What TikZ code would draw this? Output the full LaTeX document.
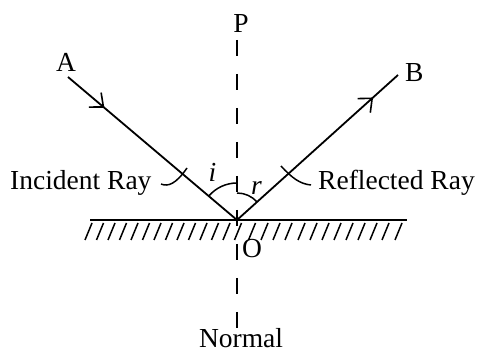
\documentclass[tikz,border=0pt]{standalone}
\usepackage{fontspec}
\setmainfont{Liberation Serif}
\usetikzlibrary{arrows.meta,decorations.markings}
\begin{document}
\begin{tikzpicture}[x=1pt,y=1pt,
  ray/.style={line width=1.8pt},
  thin line/.style={line width=1.5pt},
  normalline/.style={line width=1.6pt, dash pattern=on 16pt off 18pt},
  lbl/.style={inner sep=0pt, font=\fontsize{27.5}{30}\selectfont},
  barb/.style={postaction={decorate}, decoration={markings,
      mark=at position #1 with {\arrow{Straight Barb[length=11pt,width=19pt,line width=1.6pt]}}}}]
\useasboundingbox (0,0) rectangle (479,353);
% points
\coordinate (O) at (237,133);
\coordinate (A0) at (68,276);
\coordinate (B0) at (398,278);
\coordinate (N0) at (237,313);
\coordinate (N1) at (237,20);
\coordinate (M0) at (90,133);
\coordinate (M1) at (407,133);
% normal
\draw[normalline] (N0) -- (N1);
% mirror
\draw[ray] (M0) -- (M1);
\foreach \x in {85,96.5,108,119.5,131,142.5,154,165.5,177,188.5,200,211.5,223,234.5,248.5,261,273,285,298,310,322,334,346,358,370,382,395}
  \draw[thin line] (\x,113) -- (\x+7,130);
% rays
\draw[ray, barb=0.215] (A0) -- (O);
\draw[ray, barb=0.845] (O) -- (B0);
% angle arcs
\draw[thin line] (O) ++(139.76:37) arc[start angle=139.76, end angle=90, radius=37];
\draw[thin line] (O) ++(90:27) arc[start angle=90, end angle=42, radius=27];
% labels
\node[lbl, anchor=base] (P) at (241,320) {P};
\node[lbl, anchor=base] (A) at (66,281) {A};
\node[lbl, anchor=base west] (B) at (405,271) {B};
\node[lbl, anchor=base west] (Olbl) at (242,95) {O};
\node[lbl, anchor=base] (Nlbl) at (241,5) {Normal};
\node[lbl, anchor=base] (ilbl) at (212.5,171) {\itshape i};
\node[lbl, anchor=base] (rlbl) at (256.5,158) {\itshape r};
\node[lbl, anchor=base west] (inc) at (10,163) {Incident Ray};
\node[lbl, anchor=base west] (refl) at (318,163) {Reflected Ray};
% leaders
\coordinate (L1a) at (161,169);
\coordinate (L1b) at (187,185);
\coordinate (L2a) at (281,187);
\coordinate (L2b) at (311,168);
\draw[thin line] (L1a) .. controls (168,166) and (176,169) .. (L1b);
\draw[thin line] (L2a) .. controls (292,175) and (300,169) .. (L2b);
\end{tikzpicture}
\end{document}
